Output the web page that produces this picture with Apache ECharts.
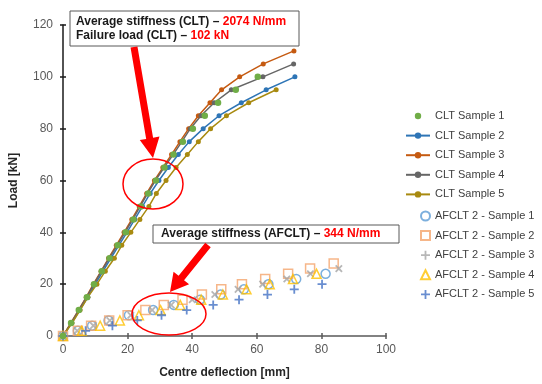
<!DOCTYPE html>
<html>
<head>
<meta charset="utf-8">
<script src="https://cdn.jsdelivr.net/npm/echarts@6/dist/echarts.min.js"></script>
<style>
  html, body { margin: 0; padding: 0; background: #fff; }
  #chart { width: 542px; height: 384px; }
</style>
</head>
<body>
<div id="chart"></div>
<script>
// CLT: load steps of 5 kN, deflection (mm) read at each step
const cltLoad = [0, 5, 10, 15, 20, 25, 30, 35, 40, 45, 50, 55, 60, 65, 70, 75, 80, 85, 90, 95, 100, 105, 110]
const clt1 = [0, 2.5, 4.9, 7.4, 9.6, 12, 14.4, 16.9, 19.4, 21.8, 24.1, 26.4, 28.8, 31.4, 34.2, 37.1, 40.2, 43.9, 48, 53.5, 60.3]
const clt2 = [0, 2.7, 5.2, 7.7, 10, 12.4, 14.8, 17.3, 19.8, 22.2, 24.6, 27, 29.7, 32.6, 35.7, 39.1, 43.4, 48.3, 55.2, 62.9, 71.8]
const clt3 = [0, 2.4, 4.8, 7.2, 9.4, 11.8, 14.1, 16.5, 18.9, 21.3, 23.6, 25.9, 28.3, 30.9, 33.6, 36.2, 38.9, 41.9, 45.5, 49.1, 54.7, 62, 71.5]
const clt4 = [0, 2.5, 4.9, 7.3, 9.6, 11.9, 14.3, 16.8, 19.2, 21.6, 23.9, 26.2, 28.6, 31.3, 34.1, 36.8, 39.4, 42.7, 46.8, 52.1, 61.9, 71.4]
const clt5 = [0, 2.8, 5.3, 7.7, 10.5, 13.1, 15.9, 18.2, 21, 23.8, 26.6, 28.9, 31.9, 35, 38.5, 41.9, 45.7, 50.6, 57.5, 66]

// AFCLT 2: load steps of 2 kN
const afLoad = [0, 2, 4, 6, 8, 10, 12, 14, 16, 18, 20, 22, 24, 26, 28]
const af1 = [0, 4.6, 9, 14.1, 20.4, 27.9, 34.3, 42.4, 48.8, 56, 63.6, 72.2, 81.3]
const af2 = [0, 4.6, 8.7, 14.3, 20, 25.5, 31.2, 37, 43, 49, 55.4, 62.6, 69.7, 76.5, 83.8]
const af3 = [0, 4.4, 9.4, 14.5, 21, 27.6, 33.5, 40, 47, 54.2, 61.8, 69.3, 76.6, 85.4]
const af4 = [0, 5.8, 11.5, 17.6, 23.5, 30.2, 36.3, 42.8, 49.5, 56.8, 64, 71.2, 78.5]
const af5 = [0, 7, 15.3, 23, 30.5, 38.3, 46.5, 54.5, 63.3, 71.6, 80.2]

const cltNames = ['CLT Sample 1', 'CLT Sample 2', 'CLT Sample 3', 'CLT Sample 4', 'CLT Sample 5']
const afNames = ['AFCLT 2 - Sample 1', 'AFCLT 2 - Sample 2', 'AFCLT 2 - Sample 3', 'AFCLT 2 - Sample 4', 'AFCLT 2 - Sample 5']

const xTicks = [0, 20, 40, 60, 80, 100]
const yTicks = [0, 20, 40, 60, 80, 100, 120]

const pts = (defl, load) => defl.map((d, i) => [d, load[i]])

const PLUS = 'path://M4,0h2v4h4v2h-4v4h-2v-4h-4v-2h4z'
const FONT = 'Liberation Sans'

function cltLine(name, defl, color, noLine) {
  return {
    name, type: 'line', data: pts(defl, cltLoad),
    symbol: 'circle', symbolSize: noLine ? 6.5 : 5,
    lineStyle: noLine ? { color, width: 0, opacity: 0 } : { color, width: 1.5 },
    itemStyle: { color },
    z: noLine ? 5 : 2,
    animation: false,
  }
}

function afScatter(name, defl, symbol, color, hollow, rotate) {
  return {
    name, type: 'scatter', data: pts(defl, afLoad),
    symbol, symbolSize: 9, symbolRotate: rotate || 0, z: 4,
    itemStyle: hollow
      ? { color: 'rgba(0,0,0,0)', borderColor: color, borderWidth: 1.5 }
      : { color },
    animation: false,
  }
}

// red arrow polygon from tail to tip
function arrow(x1, y1, x2, y2, sw, hw, hl) {
  const dx = x2 - x1, dy = y2 - y1, L = Math.hypot(dx, dy)
  const ux = dx / L, uy = dy / L, nx = -uy, ny = ux
  const bx = x2 - ux * hl, by = y2 - uy * hl
  return [
    [x1 + nx * sw, y1 + ny * sw], [bx + nx * sw, by + ny * sw], [bx + nx * hw, by + ny * hw],
    [x2, y2],
    [bx - nx * hw, by - ny * hw], [bx - nx * sw, by - ny * sw], [x1 - nx * sw, y1 - ny * sw],
  ]
}

const legendText = { color: '#404040', fontSize: 11, fontFamily: FONT, lineHeight: 12 }
const richBox = {
  b: { fontFamily: FONT, fontWeight: 'bold', fontSize: 12, fill: '#1a1a1a', lineHeight: 14 },
  r: { fontFamily: FONT, fontWeight: 'bold', fontSize: 12, fill: '#ff0000', lineHeight: 14 },
}

const chart = echarts.init(document.getElementById('chart'))
chart.setOption({
  backgroundColor: '#fff',
  textStyle: { fontFamily: FONT },
  grid: { left: 60, right: 156, top: 25, bottom: 38 },
  xAxis: [{
    type: 'value', min: xTicks[0], max: xTicks[xTicks.length - 1], interval: 20,
    name: 'Centre deflection [mm]', nameLocation: 'middle', nameGap: 31,
    nameTextStyle: { color: '#262626', fontWeight: 'bold', fontSize: 12, fontFamily: FONT },
    axisLine: { lineStyle: { color: '#595959', width: 1.5 } },
    axisTick: { length: 3, lineStyle: { color: '#595959', width: 1.5 } },
    axisLabel: { color: '#595959', fontSize: 12, margin: 8 },
    splitLine: { show: false },
  }, {
    type: 'value', position: 'bottom', min: 0, max: 100, interval: 20,
    axisLine: { show: false }, axisLabel: { show: false }, splitLine: { show: false },
    axisTick: { inside: true, length: 3, lineStyle: { color: '#595959', width: 1.5 } },
  }],
  yAxis: [{
    type: 'value', min: yTicks[0], max: yTicks[yTicks.length - 1], interval: 20,
    name: 'Load [kN]', nameLocation: 'middle', nameGap: 43, nameRotate: 90,
    nameTextStyle: { color: '#262626', fontWeight: 'bold', fontSize: 12, fontFamily: FONT },
    axisLine: { lineStyle: { color: '#1a1a1a', width: 1.5 } },
    axisTick: { length: 3, lineStyle: { color: '#1a1a1a', width: 1.5 } },
    axisLabel: { color: '#595959', fontSize: 12, margin: 10 },
    splitLine: { show: false },
  }, {
    type: 'value', position: 'left', min: 0, max: 120, interval: 20,
    axisLine: { show: false }, axisLabel: { show: false }, splitLine: { show: false },
    axisTick: { inside: true, length: 3, lineStyle: { color: '#1a1a1a', width: 1.5 } },
  }],
  legend: [{
    data: cltNames, orient: 'vertical', left: 405, top: 110, padding: 0,
    itemWidth: 24, itemHeight: 8, itemGap: 7.6, textStyle: legendText,
  }, {
    data: afNames, orient: 'vertical', left: 420, top: 210, padding: 0,
    itemWidth: 9, itemHeight: 9, itemGap: 7.6, textStyle: legendText,
  }],
  series: [
    cltLine(cltNames[0], clt1, '#70ad47', true),
    cltLine(cltNames[1], clt2, '#2e75b6'),
    cltLine(cltNames[2], clt3, '#c55a11'),
    cltLine(cltNames[3], clt4, '#666666'),
    cltLine(cltNames[4], clt5, '#a88a10'),
    afScatter(afNames[0], af1, 'circle', '#5b9bd5', true),
    afScatter(afNames[1], af2, 'rect', '#f4a46c', true),
    afScatter(afNames[2], af3, PLUS, '#a5a5a5', false, 45),
    afScatter(afNames[3], af4, 'triangle', '#ffc000', true),
    afScatter(afNames[4], af5, PLUS, '#4472c4', false),
  ],
  graphic: [
    { type: 'rect', shape: { x: 70, y: 11, width: 229, height: 35 },
      style: { fill: '#fff', stroke: '#595959', lineWidth: 1 }, z: 10 },
    { type: 'text', x: 76, y: 15, z: 11,
      style: {
        text: '{b|Average stiffness (CLT) – }{r|2074 N/mm}\n{b|Failure load (CLT) – }{r|102 kN}',
        rich: richBox,
      } },
    { type: 'rect', shape: { x: 153, y: 225, width: 246, height: 18 },
      style: { fill: '#fff', stroke: '#595959', lineWidth: 1 }, z: 10 },
    { type: 'text', x: 161, y: 227, z: 11,
      style: { text: '{b|Average stiffness (AFCLT) – }{r|344 N/mm}', rich: richBox } },
    { type: 'polygon', z: 12, shape: { points: arrow(134, 47, 153, 158, 3.5, 10, 20) }, style: { fill: '#ff0000' } },
    { type: 'polygon', z: 12, shape: { points: arrow(208, 245, 170, 292, 3.5, 10, 18) }, style: { fill: '#ff0000' } },
    { type: 'ellipse', z: 12, shape: { cx: 153, cy: 184, rx: 30, ry: 25 },
      style: { fill: 'none', stroke: '#ff0000', lineWidth: 1.5 } },
    { type: 'ellipse', z: 12, shape: { cx: 169, cy: 314, rx: 37, ry: 21 },
      style: { fill: 'none', stroke: '#ff0000', lineWidth: 1.5 } },
  ],
})
</script>
</body>
</html>
